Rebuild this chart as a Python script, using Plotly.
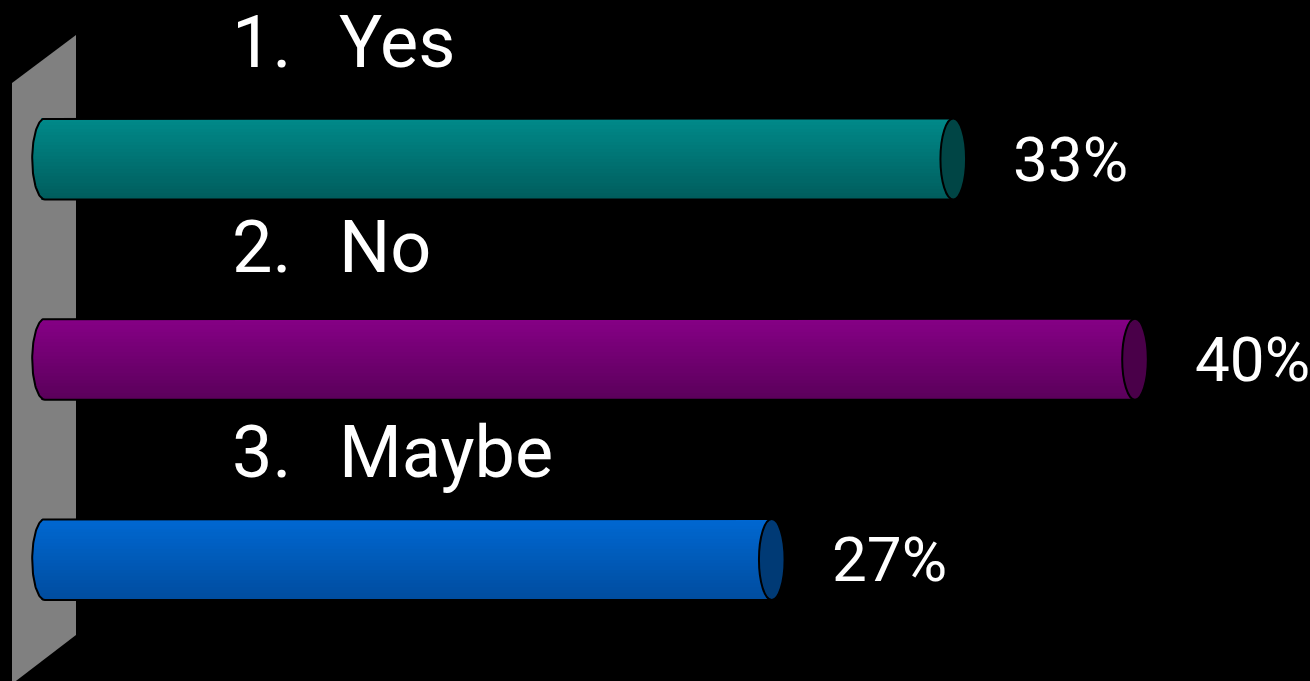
import numpy as np
import plotly.graph_objects as go

# ---------------- data ----------------
numbers = ["1.", "2.", "3."]
categories = ["Yes", "No", "Maybe"]
values = [33.33, 40.0, 26.67]          # percent of responses

# ---------------- style ----------------
top_colors = ["#008A8A", "#860086", "#0068D2"]
bottom_colors = ["#005C5C", "#5A005A", "#004C9E"]
cap_colors = ["#004545", "#4A0049", "#003A75"]
wall_color = "#808080"

W, H = 1310, 681
X0_PX, X_SCALE = 45.0, 27.25     # pixel of value 0, pixels per percent
Y0_PX, Y_STEP = 159.0, 200.25    # pixel of first category, pixels per category
x_range = [-X0_PX / X_SCALE, (W - X0_PX) / X_SCALE]
y_range = [(H - Y0_PX) / Y_STEP, -Y0_PX / Y_STEP]

BAR_H = 0.405   # bar thickness in category units
RX = 0.47       # end-cap half width in value units
N = 24          # gradient strips

label_y_px = [42, 248, 452]
num_x_px, text_x_px = 230, 337
LABEL_FONT = "Liberation Sans Narrow, Arial Narrow, Roboto, sans-serif"
PCT_FONT = "Liberation Sans Narrow, Arial Narrow, Roboto, sans-serif"


def lerp_hex(c1, c2, t):
    a = np.array([int(c1[i:i + 2], 16) for i in (1, 3, 5)])
    b = np.array([int(c2[i:i + 2], 16) for i in (1, 3, 5)])
    c = np.round(a + (b - a) * t).astype(int)
    return "#%02x%02x%02x" % tuple(c)


idx = list(range(len(categories)))
fig = go.Figure()

# gradient strips forming the cylinder body (left end follows an ellipse)
for k in range(N):
    tc = (k + 0.5) / N
    u = 2 * tc - 1
    base = -RX * np.sqrt(max(0.0, 1 - u * u))
    fig.add_trace(go.Bar(
        orientation="h",
        y=idx,
        x=[v - base for v in values],
        base=[base] * len(values),
        width=BAR_H / N * 1.02,
        offset=-BAR_H / 2 + k * BAR_H / N,
        marker=dict(color=[lerp_hex(top_colors[i], bottom_colors[i], tc) for i in idx],
                    line=dict(width=0)),
        hoverinfo="skip",
        showlegend=False,
    ))

# outlines of the cylinder bodies
theta = np.linspace(-np.pi / 2, np.pi / 2, 60)
for i, v in zip(idx, values):
    xs = [v] + list(-RX * np.cos(theta)) + [v]
    ys = [i - BAR_H / 2] + list(i + BAR_H / 2 * np.sin(theta)) + [i + BAR_H / 2]
    fig.add_trace(go.Scatter(x=xs, y=ys, mode="lines",
                             line=dict(color="black", width=2),
                             hoverinfo="skip", showlegend=False))

shapes = [
    # grey back wall
    dict(type="path", xref="paper", yref="paper", layer="below",
         path="M %f %f L %f %f L %f %f L %f %f Z" % (
             12 / W, 1 - 83 / H, 76 / W, 1 - 35 / H,
             76 / W, 1 - 635 / H, 12 / W, 1 - 684 / H),
         fillcolor=wall_color, line=dict(width=0)),
]
# right end caps
for i, v in zip(idx, values):
    shapes.append(dict(type="circle", xref="x", yref="y", layer="above",
                       x0=v - RX, x1=v + RX, y0=i - BAR_H / 2, y1=i + BAR_H / 2,
                       fillcolor=cap_colors[i], line=dict(color="black", width=2)))

annotations = []
for i, v in zip(idx, values):
    annotations.append(dict(x=v, y=i, xref="x", yref="y", xanchor="left",
                            yanchor="middle", xshift=58, showarrow=False,
                            text="%.0f%%" % v,
                            font=dict(family=PCT_FONT, size=62, color="white")))
for i in idx:
    yp = 1 - label_y_px[i] / H
    annotations.append(dict(x=num_x_px / W, y=yp, xref="paper", yref="paper",
                            xanchor="left", yanchor="middle", showarrow=False,
                            text=numbers[i],
                            font=dict(family=LABEL_FONT, size=72, color="white")))
    annotations.append(dict(x=text_x_px / W, y=yp, xref="paper", yref="paper",
                            xanchor="left", yanchor="middle", showarrow=False,
                            text=categories[i],
                            font=dict(family=LABEL_FONT, size=72, color="white")))

fig.update_layout(
    width=W, height=H,
    margin=dict(l=0, r=0, t=0, b=0),
    paper_bgcolor="black", plot_bgcolor="black",
    barmode="overlay", bargap=0,
    xaxis=dict(range=x_range, visible=False, fixedrange=True),
    yaxis=dict(range=y_range, visible=False, fixedrange=True),
    shapes=shapes, annotations=annotations,
    showlegend=False,
)

fig.write_html("out.html")
